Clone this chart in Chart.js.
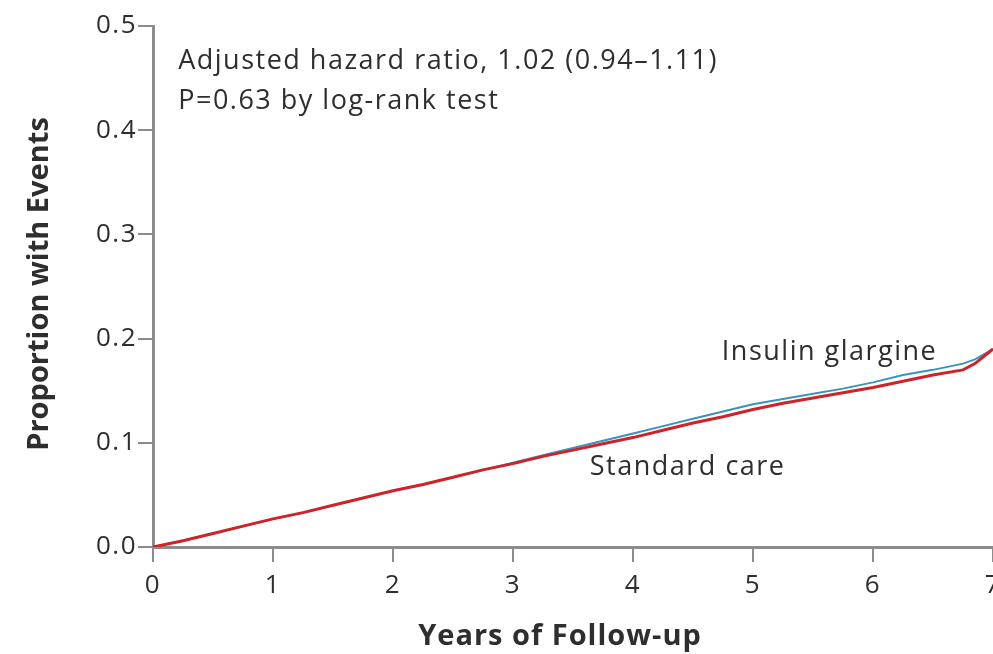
<!DOCTYPE html>
<html>
<head>
<meta charset="utf-8">
<script src="https://cdn.jsdelivr.net/npm/chart.js@4"></script>
<style>
  html, body { margin: 0; padding: 0; background: #fff; overflow: hidden; }
  #wrap { position: relative; width: 1010px; height: 654px; }
</style>
</head>
<body>
<div id="wrap"><canvas id="km"></canvas></div>
<script>
// data
const years = [0, 0.25, 0.5, 0.75, 1, 1.25, 1.5, 1.75, 2, 2.25, 2.5, 2.75, 3, 3.25, 3.5, 3.75,
               4, 4.25, 4.5, 4.75, 5, 5.25, 5.5, 5.75, 6, 6.25, 6.5, 6.75, 6.85, 7];
const standardCare = [0, 0.006, 0.013, 0.020, 0.027, 0.033, 0.040, 0.047, 0.054, 0.060, 0.067, 0.074,
                      0.080, 0.087, 0.093, 0.099, 0.105, 0.112, 0.119, 0.125, 0.132, 0.138, 0.143, 0.148,
                      0.153, 0.159, 0.165, 0.170, 0.176, 0.190];
const glargine = [0, 0.006, 0.013, 0.020, 0.027, 0.033, 0.040, 0.047, 0.054, 0.060, 0.067, 0.074,
                  0.081, 0.088, 0.095, 0.102, 0.109, 0.116, 0.123, 0.130, 0.137, 0.142, 0.147, 0.152,
                  0.158, 0.165, 0.170, 0.176, 0.180, 0.190];
const xTicks = [0, 1, 2, 3, 4, 5, 6, 7];
const yTicks = [0, 0.1, 0.2, 0.3, 0.4, 0.5];

const axisGrey = '#8c8c8c';
const textCol = '#2e2e2e';
const fontFam = '"Open Sans", "DejaVu Sans", sans-serif';

function pts(vals) {
  return years.map((x, i) => ({ x: x, y: vals[i] }));
}

// notes placed in data units
const notes = [
  { text: 'Adjusted hazard ratio, 1.02 (0.94\u20131.11)', x: 0.21, y: 0.466 },
  { text: 'P=0.63 by log-rank test', x: 0.21, y: 0.428 },
  { text: 'Insulin glargine', x: 4.74, y: 0.187 },
  { text: 'Standard care', x: 3.64, y: 0.0766 }
];

const notePlugin = {
  id: 'notes',
  beforeDraw(chart) {
    chart.ctx.letterSpacing = '1.5px';
  },
  afterDraw(chart) {
    const ctx = chart.ctx;
    const xs = chart.scales.x, ys = chart.scales.y;
    const area = chart.chartArea;
    ctx.save();
    ctx.fillStyle = textCol;
    ctx.letterSpacing = '1.5px';
    ctx.font = '27px ' + fontFam;
    ctx.textAlign = 'left';
    ctx.textBaseline = 'middle';
    notes.forEach(n => {
      ctx.fillText(n.text, xs.getPixelForValue(n.x), ys.getPixelForValue(n.y));
    });

    // axis titles
    ctx.font = 'bold 29px ' + fontFam;
    ctx.textAlign = 'center';
    ctx.letterSpacing = '1px';
    ctx.fillText('Years of Follow-up', area.left + 407, 637);
    ctx.letterSpacing = '0px';
    ctx.translate(40, 284);
    ctx.rotate(-Math.PI / 2);
    ctx.fillText('Proportion with Events', 0, 0);
    ctx.restore();
  }
};

new Chart(document.getElementById('km'), {
  type: 'line',
  data: {
    datasets: [
      {
        label: 'Standard care',
        data: pts(standardCare),
        borderColor: '#cf2329',
        borderWidth: 3,
        pointRadius: 0,
        tension: 0
      },
      {
        label: 'Insulin glargine',
        data: pts(glargine),
        borderColor: '#3b93bd',
        borderWidth: 2,
        pointRadius: 0,
        tension: 0
      }
    ]
  },
  options: {
    responsive: true,
    maintainAspectRatio: false,
    animation: false,
    layout: { padding: { top: 26, right: 17, left: 0, bottom: 0 } },
    plugins: { legend: { display: false }, tooltip: { enabled: false } },
    scales: {
      x: {
        type: 'linear',
        min: 0, max: 7,
        afterBuildTicks: s => { s.ticks = xTicks.map(v => ({ value: v })); },
        afterFit: s => { s.height = 107; },
        grid: { drawOnChartArea: false, drawTicks: true, tickLength: 15, color: axisGrey, lineWidth: 2 },
        border: { color: axisGrey, width: 3 },
        ticks: { color: textCol, padding: 8, font: { size: 26, family: fontFam } }
      },
      y: {
        min: 0, max: 0.5,
        afterBuildTicks: s => { s.ticks = yTicks.map(v => ({ value: v })); },
        afterFit: s => { s.width = 153; },
        grid: { drawOnChartArea: false, drawTicks: true, tickLength: 15, color: axisGrey, lineWidth: 2 },
        border: { color: axisGrey, width: 3 },
        ticks: { color: textCol, padding: 1, font: { size: 26, family: fontFam },
                 callback: v => v.toFixed(1) }
      }
    }
  },
  plugins: [notePlugin]
});
</script>
</body>
</html>
